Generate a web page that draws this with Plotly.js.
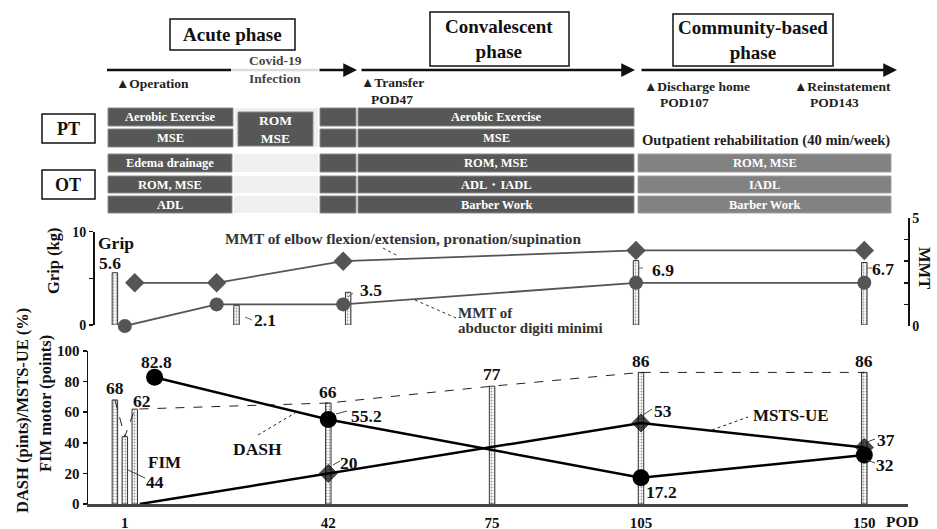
<!DOCTYPE html>
<html><head><meta charset="utf-8">
<script src="https://cdn.plot.ly/plotly-3.0.1.min.js"></script>
<style>html,body{margin:0;padding:0;background:#fff}#chart{width:937px;height:529px}</style>
</head><body><div id="chart"></div>
<script>
// ---------------- DATA ----------------
const podTicks = [1, 42, 75, 105, 150];
const fimDays = [-1, 1, 3, 42, 75, 105, 150];
const fimMotor = [68, 44, 62, 66, 77, 86, 86];
const dashDays = [7, 42, 105, 150];
const dashScore = [82.8, 55.2, 17.2, 32];
const mstsDays = [4, 42, 105, 150];
const mstsScore = [0, 20, 53, 37];
const gripDays = [-1, 23.5, 46, 104, 150];
const gripKg = [5.6, 2.1, 3.5, 6.9, 6.7];
const elbowDays = [3, 19.5, 45, 104, 150];
const elbowMMT = [2, 2, 3, 3.5, 3.5];
const admDays = [1, 19.5, 45, 104, 150];
const admMMT = [0, 1, 1, 2, 2];

const phases = ['Acute phase', 'Convalescent<br>phase', 'Community-based<br>phase'];
const events = ['▲Operation', '▲Transfer', 'POD47', '▲Discharge home', 'POD107', '▲Reinstatement', 'POD143'];
const ptRows = [['Aerobic Exercise', 'Aerobic Exercise'], ['MSE', 'MSE']];
const otRows = [['Edema drainage', 'ROM, MSE', 'ROM, MSE'], ['ROM, MSE', 'ADL・IADL', 'IADL'], ['ADL', 'Barber Work', 'Barber Work']];

// ---------------- STYLE / LAYOUT HELPERS ----------------
const W = 937, H = 529;
const F = '"Liberation Serif", "Times New Roman", serif';
const P = x => x / W, Q = y => 1 - y / H;
const shapes = [], ann = [];
function rect(x0, x1, y0, y1, fill, lc, lw) {
  shapes.push({type: 'rect', xref: 'paper', yref: 'paper', x0: P(x0), x1: P(x1), y0: Q(y1), y1: Q(y0),
    fillcolor: fill, line: {color: lc || fill, width: lw === undefined ? 0 : lw}, layer: 'below'});
}
function seg(x0, y0, x1, y1, color, width, dash) {
  shapes.push({type: 'line', xref: 'paper', yref: 'paper', x0: P(x0), y0: Q(y0), x1: P(x1), y1: Q(y1),
    line: {color: color, width: width, dash: dash || 'solid'}});
}
function txt(x, y, text, size, color, opts) {
  ann.push(Object.assign({xref: 'paper', yref: 'paper', x: P(x), y: Q(y), text: '<b>' + text + '</b>', showarrow: false,
    font: {family: F, size: size, color: color || '#111'}, xanchor: 'center', yanchor: 'middle'}, opts || {}));
}
function arrow(x0, x1, y) {
  ann.push({xref: 'paper', yref: 'paper', x: P(x1), y: Q(y), ax: -(x1 - x0), ay: 0, text: '', showarrow: true,
    arrowhead: 2, arrowsize: 1.1, arrowwidth: 2.5, arrowcolor: '#111'});
}

// ---------------- TOP: PHASES & TREATMENT ----------------
rect(170, 295, 19, 50, '#fff', '#111', 1.5);
rect(430, 569, 12, 66, '#fff', '#111', 1.5);
rect(673, 833, 14, 66, '#fff', '#111', 1.5);
txt(232, 35, phases[0], 19);
txt(499, 39, phases[1], 19);
txt(753, 40, phases[2], 19);

seg(107, 70, 231, 70, '#111', 2.5);
seg(231, 70, 318, 70, '#dcdcdc', 2.5);
arrow(318, 357, 70);
arrow(360, 635, 70);
arrow(640, 897, 70);

txt(275, 61, 'Covid-19', 13.5, '#444');
txt(275, 79, 'Infection', 13.5, '#444');
txt(114, 84, events[0], 13.5, '#222', {xanchor: 'left'});
txt(359, 83, events[1], 13.5, '#222', {xanchor: 'left'});
txt(392, 99, events[2], 13.5, '#222');
txt(642, 86, events[3], 13.5, '#222', {xanchor: 'left'});
txt(684, 102, events[4], 13.5, '#222');
txt(792, 86, events[5], 13.5, '#222', {xanchor: 'left'});
txt(834, 102, events[6], 13.5, '#222');

rect(42, 95, 114, 143, '#fff', '#111', 1.5);
rect(42, 95, 170, 199, '#fff', '#111', 1.5);
txt(68, 129, 'PT', 18);
txt(68, 185, 'OT', 18);

const DK = '#575757', MD = '#828282', LT = '#efefef';
const ptY = [[108, 126], [129, 147]];
ptRows.forEach((r, i) => {
  const [a, b] = ptY[i];
  rect(108, 233, a, b, DK, '#8a8a8a', 1);
  rect(320, 356, a, b, DK, '#8a8a8a', 1);
  rect(358, 634, a, b, DK, '#8a8a8a', 1);
  txt(170, (a + b) / 2, r[0], 12.5, '#fff');
  txt(496, (a + b) / 2, r[1], 12.5, '#fff');
});
rect(235, 318, 108, 147, LT);
rect(238, 313, 112, 146, DK, '#8a8a8a', 1);
txt(275.5, 129, 'ROM<br>MSE', 13.5, '#fff');
txt(640, 140, 'Outpatient rehabilitation (40 min/week)', 14.6, '#222', {xanchor: 'left'});

const otY = [[154, 172], [176, 193], [196, 213]];
otRows.forEach((r, i) => {
  const [a, b] = otY[i];
  rect(108, 232, a, b, DK, '#8a8a8a', 1);
  rect(234, 318, a, b, LT);
  rect(320, 356, a, b, DK, '#8a8a8a', 1);
  rect(358, 634, a, b, DK, '#8a8a8a', 1);
  rect(638, 891, a, b, MD, '#a0a0a0', 1);
  txt(170, (a + b) / 2, r[0], 12.5, '#fff');
  txt(496, (a + b) / 2, r[1], 12.5, '#fff');
  txt(764.5, (a + b) / 2, r[2], 12.5, '#fff');
});

// ---------------- MIDDLE: GRIP / MMT ----------------
txt(116, 243, 'Grip', 17.5);
txt(53, 261, 'Grip (kg)', 16.5, '#111', {textangle: -90});
txt(925, 268, 'MMT', 16.5, '#111', {textangle: 90});
txt(403, 238, 'MMT of elbow flexion/extension, pronation/supination', 15.3, '#333');
txt(456, 313, 'MMT of', 15, '#333', {xanchor: 'left'});
txt(456, 328, 'abductor digiti minimi', 15, '#333', {xanchor: 'left'});
seg(383, 248, 398, 256, '#333', 1, 'dot');
seg(415, 300, 456, 318, '#333', 1, 'dot');

const gripShift = [[-5, 10], [28, -15], [23, 2], [27, -9], [19, -7]];
gripKg.forEach((v, i) => ann.push({xref: 'x2', yref: 'y3', x: gripDays[i], y: v, xshift: gripShift[i][0], yshift: gripShift[i][1],
  text: '<b>' + v.toFixed(1) + '</b>', showarrow: false, font: {family: F, size: 17.5, color: '#111'}}));
seg(245, 317, 252, 320, '#666', 1);
seg(348, 297, 353, 293, '#666', 1);
seg(638, 268, 643, 268, '#666', 1);
seg(867, 268, 872, 268, '#666', 1);

// ---------------- BOTTOM: FIM / DASH / MSTS ----------------
txt(22, 411, 'DASH (pints)/MSTS-UE (%)', 16.5, '#111', {textangle: -90});
txt(45, 404, 'FIM motor (points)', 16.5, '#111', {textangle: -90});
txt(902, 521, 'POD', 15.5);
txt(164, 462, 'FIM', 17);
txt(257, 449, 'DASH', 17.5);
txt(791, 415, 'MSTS-UE', 17);
seg(258, 435, 295, 413, '#222', 1, 'dot');
seg(712, 430, 748, 417, '#222', 1, 'dot');

const fimShift = [[0, 12], [30, -45], [7, 8], [0, 11], [0, 12], [0, 11], [0, 11]];
fimMotor.forEach((v, i) => ann.push({xref: 'x', yref: 'y', x: fimDays[i], y: v, xshift: fimShift[i][0], yshift: fimShift[i][1],
  text: '<b>' + v + '</b>', showarrow: false, font: {family: F, size: 17.5, color: '#111'}}));
const dashShift = [[2, 15], [38, 4], [21, -14], [21, -10]];
dashScore.forEach((v, i) => ann.push({xref: 'x', yref: 'y', x: dashDays[i], y: v, xshift: dashShift[i][0], yshift: dashShift[i][1],
  text: '<b>' + v + '</b>', showarrow: false, font: {family: F, size: 17.5, color: '#111'}}));
const mstsShift = [null, [21, 10], [22, 12], [22, 7]];
mstsScore.forEach((v, i) => { if (mstsShift[i]) ann.push({xref: 'x', yref: 'y', x: mstsDays[i], y: v, xshift: mstsShift[i][0], yshift: mstsShift[i][1],
  text: '<b>' + v + '</b>', showarrow: false, font: {family: F, size: 17.5, color: '#111'}}); });
seg(128, 470, 145, 478, '#444', 1);
seg(336, 414, 347, 411, '#444', 1);
seg(333, 465, 340, 461, '#444', 1);
seg(643, 415, 652, 409, '#444', 1);
seg(867, 442, 875, 439, '#444', 1);
seg(867, 460, 875, 463, '#444', 1);

// ---------------- TRACES ----------------
const barStyle = {color: '#d8d8d8', line: {color: '#333', width: 1}, pattern: {shape: '.', fgcolor: '#999', size: 3, solidity: 0.3}};
const traces = [
  {type: 'bar', x: fimDays, y: fimMotor, xaxis: 'x', yaxis: 'y', width: 1.1, marker: barStyle, hoverinfo: 'skip'},
  {type: 'scatter', mode: 'lines', x: fimDays, y: fimMotor, xaxis: 'x', yaxis: 'y', line: {color: '#222', width: 1, dash: 'dash'}, cliponaxis: false},
  {type: 'scatter', mode: 'lines+markers', x: dashDays, y: dashScore, xaxis: 'x', yaxis: 'y', line: {color: '#000', width: 2.5},
    marker: {symbol: 'circle', size: 17, color: '#000', line: {color: '#000', width: 0}}, cliponaxis: false},
  {type: 'scatter', mode: 'lines+markers', x: mstsDays, y: mstsScore, xaxis: 'x', yaxis: 'y', line: {color: '#000', width: 2.5},
    marker: {symbol: 'diamond', size: [0, 14, 14, 14], color: '#000', line: {color: '#000', width: 1}}, cliponaxis: false},
  {type: 'bar', x: gripDays, y: gripKg, xaxis: 'x2', yaxis: 'y3', width: 1.1, marker: barStyle, hoverinfo: 'skip'},
  {type: 'scatter', mode: 'lines+markers', x: elbowDays, y: elbowMMT, xaxis: 'x2', yaxis: 'y4', line: {color: '#555', width: 1.8},
    marker: {symbol: 'diamond', size: 15, color: '#555'}, cliponaxis: false},
  {type: 'scatter', mode: 'lines+markers', x: admDays, y: admMMT, xaxis: 'x2', yaxis: 'y4', line: {color: '#555', width: 1.8},
    marker: {symbol: 'circle', size: 14, color: '#555'}, cliponaxis: false}
];

const tf = {family: F, size: 15, color: '#111', weight: 'bold'};
const xr = [-6.42, 158.8];
const layout = {
  width: W, height: H, margin: {l: 0, r: 0, t: 0, b: 0}, showlegend: false,
  paper_bgcolor: '#fff', plot_bgcolor: 'rgba(0,0,0,0)', font: {family: F},
  bargap: 0,
  xaxis: {domain: [P(88), P(908)], range: xr, anchor: 'y', showline: true, linecolor: '#444', linewidth: 2.5,
    tickvals: podTicks, ticktext: podTicks.map(String), ticks: 'outside', ticklen: 3, tickcolor: 'rgba(0,0,0,0)', tickfont: tf,
    showgrid: false, zeroline: false},
  yaxis: {domain: [Q(504), Q(351)], range: [0, 100], tick0: 0, dtick: 20, ticks: 'outside', ticklen: 4, tickwidth: 1.5,
    tickcolor: '#111', showline: true, linecolor: '#111', linewidth: 1.5, showgrid: false, zeroline: false, tickfont: tf, anchor: 'x'},
  yaxis2: {overlaying: 'y', side: 'right', anchor: 'x', range: [0, 100], tick0: 0, dtick: 20, ticks: 'inside', ticklen: 5,
    tickwidth: 1.5, tickcolor: '#111', showline: true, linecolor: '#111', linewidth: 1.5, showticklabels: false, showgrid: false, zeroline: false},
  xaxis2: {domain: [P(88), P(908)], range: xr, anchor: 'y3', visible: false},
  yaxis3: {domain: [Q(325), Q(231.7)], range: [0, 10], tickvals: [0, 5, 10], ticktext: ['0', '', '10'], ticks: 'outside', ticklen: 4,
    tickwidth: 1.5, tickcolor: '#111', showline: true, linecolor: '#111', linewidth: 1.5, anchor: 'free', position: P(93),
    showgrid: false, zeroline: false, tickfont: {family: F, size: 14, color: '#111', weight: 'bold'}},
  yaxis4: {domain: [Q(326), Q(218)], range: [0, 5], tickvals: [0, 1, 2, 3, 4, 5], ticktext: ['0', '', '', '', '', '5'], ticks: 'inside',
    ticklen: 4, tickwidth: 1.5, tickcolor: '#111', side: 'right', anchor: 'x2', showline: true, linecolor: '#111', linewidth: 1.5,
    showgrid: false, zeroline: false, tickfont: {family: F, size: 14, color: '#111', weight: 'bold'}},
  shapes: shapes, annotations: ann
};
Plotly.newPlot('chart', traces, layout, {staticPlot: true, displayModeBar: false});
</script></body></html>
